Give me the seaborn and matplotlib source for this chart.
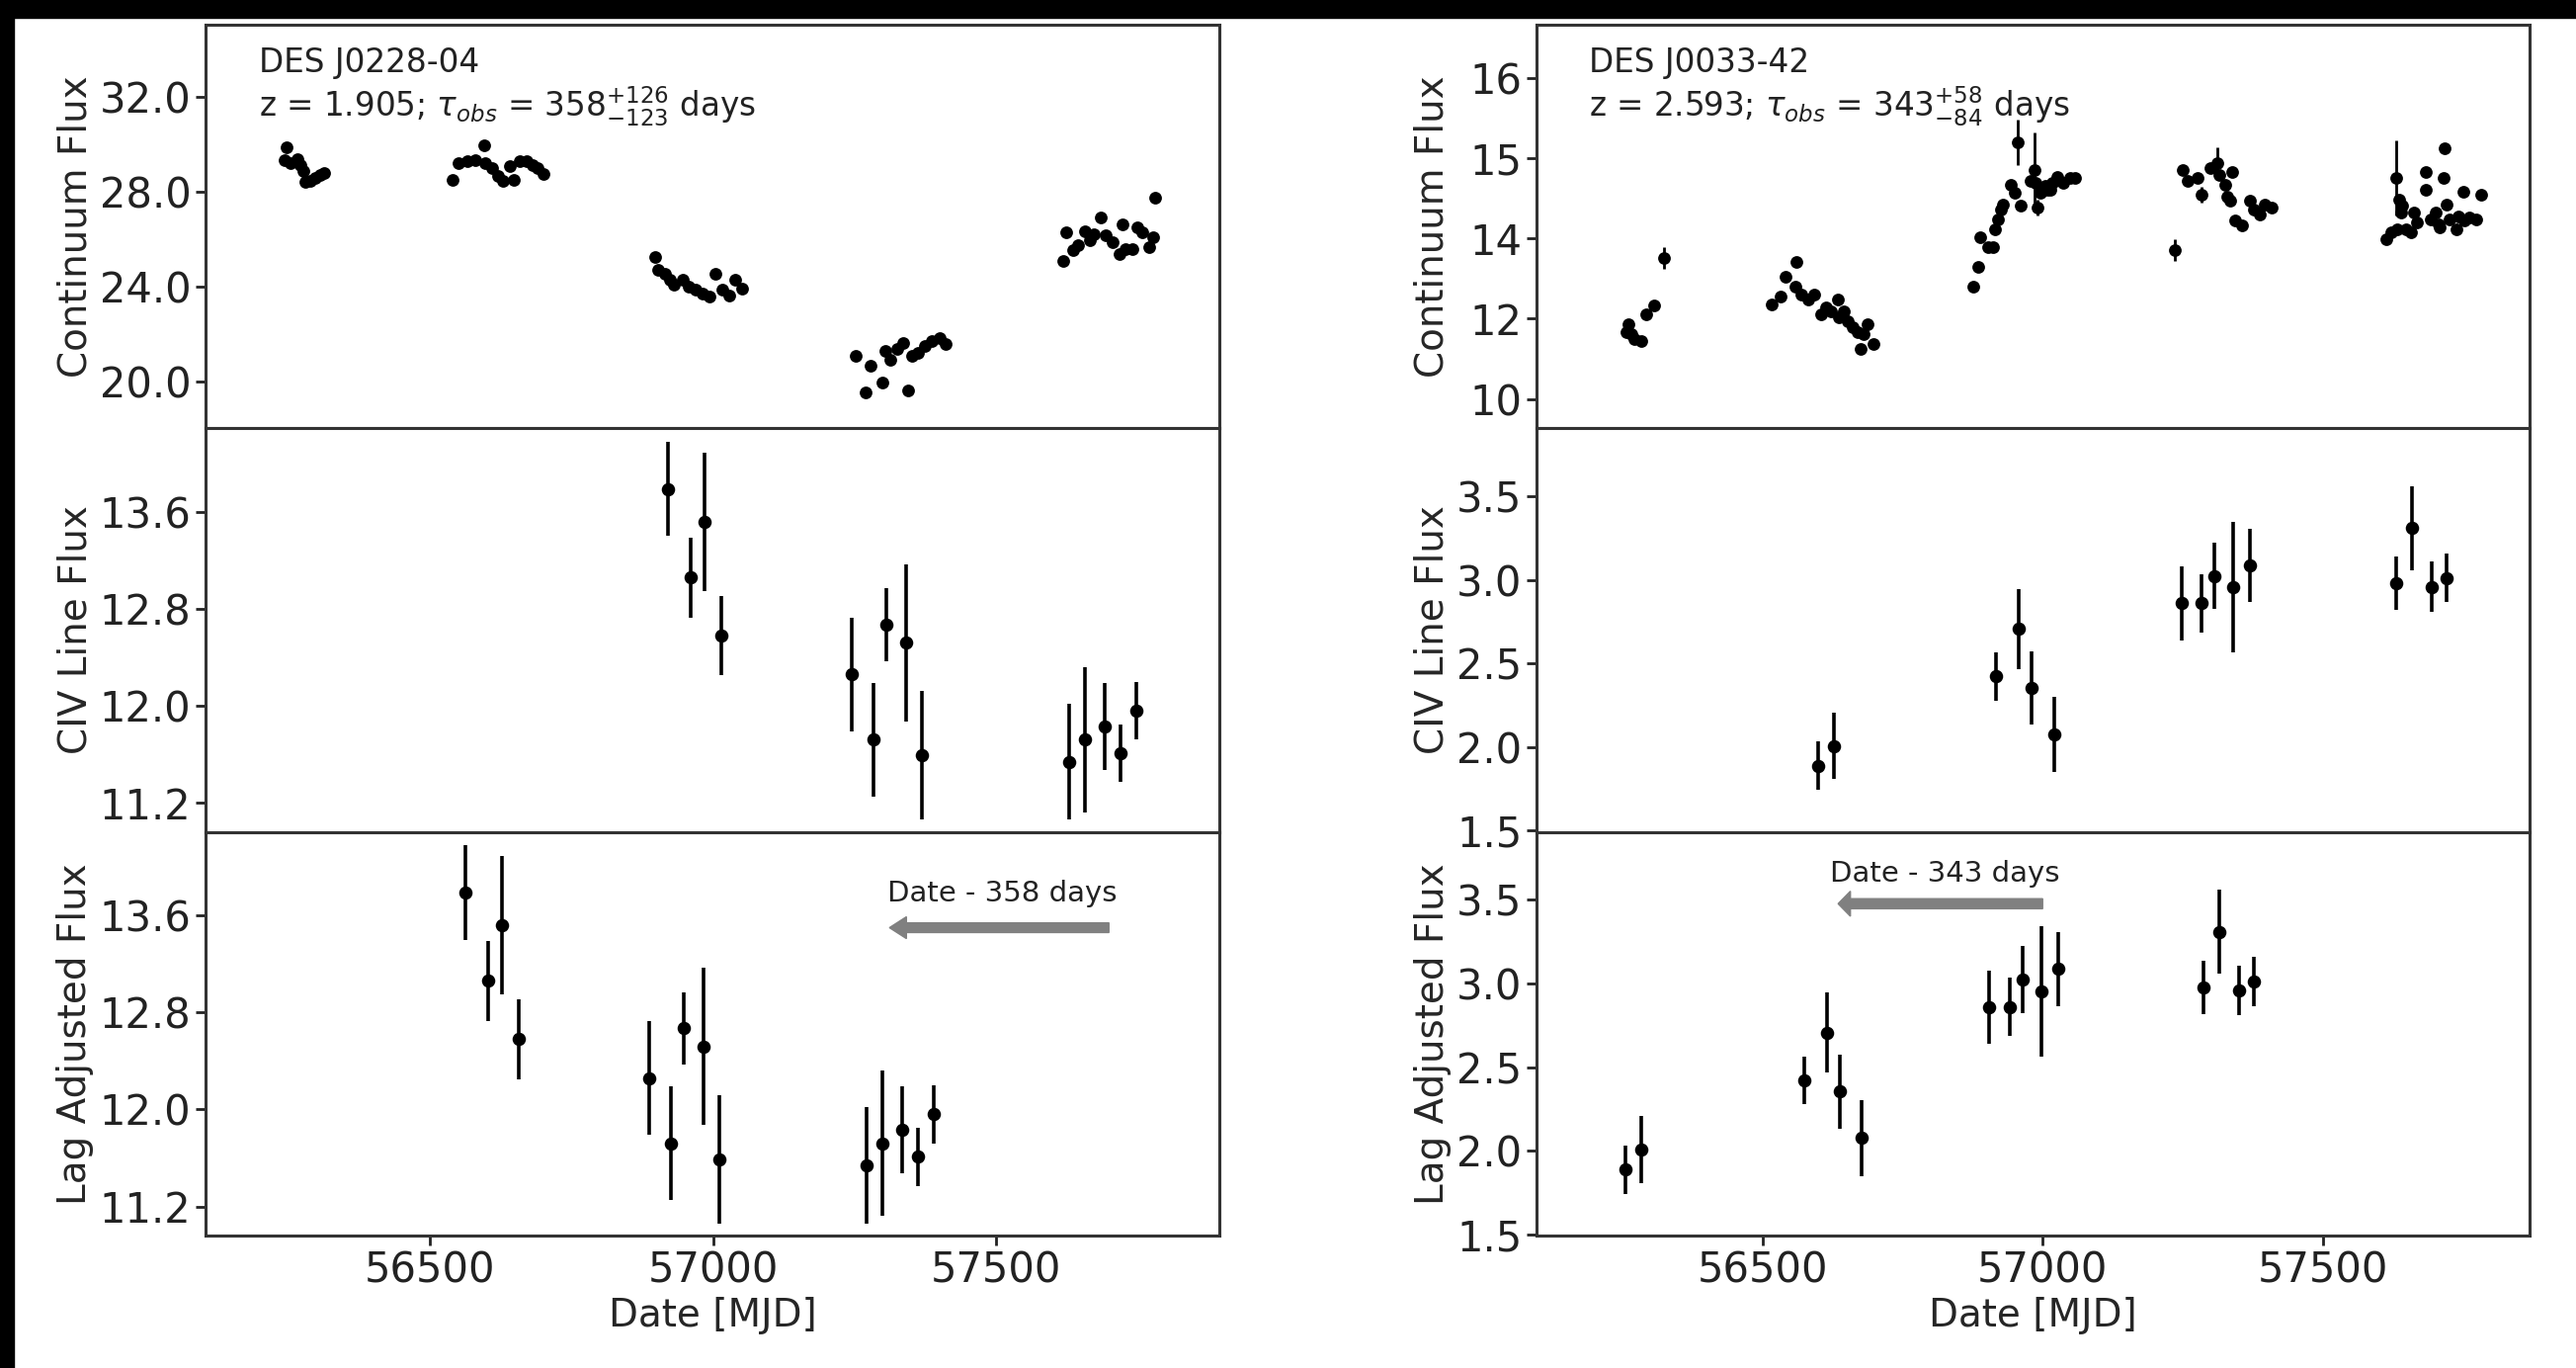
import matplotlib
matplotlib.use("Agg")
import matplotlib.pyplot as plt
import seaborn as sns
import pandas as pd
from matplotlib.patches import Rectangle

# DES J0228-04 -------------------------------------------------------------
j0228_cont_mjd = [56243.1, 56246.6, 56252.4, 56265.2, 56271.1, 56275.7, 56279.8, 56288.5, 56296.1, 56304.8, 56313.0,
                  56538.9, 56550.5, 56565.1, 56579.6, 56595.9, 56597.1, 56608.7, 56620.4, 56629.1, 56640.7, 56648.3,
                  56658.2, 56669.9, 56681.5, 56690.2, 56700.7,
                  56898.6, 56902.7, 56914.4, 56923.1, 56931.8, 56946.4, 56958.0, 56969.7, 56981.3, 56993.0, 57004.6,
                  57016.3, 57027.9, 57039.5, 57051.2,
                  57252.1, 57269.6, 57278.3, 57298.7, 57304.5, 57313.3, 57324.9, 57336.5, 57345.3, 57351.1, 57362.7,
                  57374.4, 57386.0, 57400.6, 57411.1,
                  57618.9, 57624.7, 57636.4, 57645.1, 57656.8, 57665.5, 57674.2, 57685.9, 57694.6, 57706.3, 57717.9,
                  57723.7, 57729.5, 57741.2, 57749.9, 57758.7, 57770.3, 57779.0, 57781.9]
j0228_cont_flux = [29.36, 29.87, 29.22, 29.40, 29.15, 28.87, 28.42, 28.48, 28.59, 28.70, 28.80,
                   28.52, 29.22, 29.31, 29.36, 29.95, 29.22, 29.01, 28.66, 28.45, 29.08, 28.52,
                   29.29, 29.31, 29.15, 29.01, 28.76,
                   25.25, 24.70, 24.56, 24.28, 24.07, 24.28, 24.00, 23.86, 23.72, 23.58, 24.56,
                   23.86, 23.65, 24.28, 23.93,
                   21.08, 19.55, 20.66, 19.97, 21.29, 20.94, 21.36, 21.64, 19.62, 21.08, 21.22,
                   21.50, 21.70, 21.84, 21.57,
                   25.11, 26.29, 25.53, 25.74, 26.36, 25.95, 26.23, 26.92, 26.16, 25.88, 25.39,
                   26.64, 25.60, 25.60, 26.50, 26.29, 25.67, 26.09, 27.76]
j0228_line_mjd = [56921, 56960, 56985, 57015, 57245, 57284, 57307, 57342, 57369,
                  57629, 57658, 57693, 57720, 57748]
j0228_line_flux = [13.79, 13.06, 13.52, 12.58, 12.26, 11.72, 12.67, 12.52, 11.59,
                   11.54, 11.72, 11.83, 11.61, 11.96]
j0228_line_err = [0.39, 0.33, 0.57, 0.33, 0.47, 0.47, 0.30, 0.65, 0.53,
                  0.48, 0.60, 0.36, 0.24, 0.24]
j0228_lag = 358
j0228_text = "DES J0228-04\nz = 1.905; $\\tau_{obs}$ = $358^{+126}_{-123}$ days"

# DES J0033-42 -------------------------------------------------------------
j0033_cont_mjd = [56257.2, 56260.1, 56265.9, 56271.8, 56283.4, 56292.2, 56306.8, 56324.4,
                  56517.2, 56531.8, 56540.6, 56558.1, 56561.0, 56569.8, 56581.5, 56593.2, 56604.9, 56613.6,
                  56622.4, 56634.1, 56637.0, 56645.8, 56651.6, 56660.4, 56669.2, 56675.0, 56680.8, 56686.7,
                  56698.4,
                  56876.6, 56885.4, 56888.3, 56902.9, 56911.7, 56914.6, 56920.5, 56926.3, 56929.2, 56943.8,
                  56949.7, 56955.5, 56961.4, 56978.9, 56984.8, 56987.7, 56990.6, 56996.3, 56999.3, 57005.1,
                  57008.1, 57013.9, 57016.9, 57025.6, 57037.3, 57048.9, 57057.7,
                  57235.9, 57250.6, 57259.3, 57276.9, 57282.7, 57300.2, 57311.9, 57314.8, 57326.5, 57329.4,
                  57335.3, 57338.2, 57344.1, 57355.8, 57370.4, 57376.3, 57388.0, 57396.7, 57408.3,
                  57612.9, 57621.7, 57630.4, 57633.3, 57636.3, 57639.2, 57642.1, 57647.9, 57656.7, 57662.6,
                  57668.4, 57683.0, 57683.0, 57691.8, 57700.5, 57706.4, 57709.3, 57715.2, 57718.1, 57721.0,
                  57726.9, 57738.5, 57741.5, 57750.2, 57753.1, 57761.9, 57773.6, 57782.4]
j0033_cont_flux = [11.25, 11.40, 11.21, 11.12, 11.09, 11.58, 11.74, 12.63,
                   11.77, 11.92, 12.29, 12.10, 12.56, 11.95, 11.86, 11.95, 11.58, 11.71,
                   11.64, 11.86, 11.52, 11.64, 11.46, 11.34, 11.25, 10.94, 11.21, 11.40,
                   11.03,
                   12.09, 12.47, 13.02, 12.84, 12.84, 13.18, 13.36, 13.55, 13.64, 14.01,
                   13.85, 14.80, 13.61, 14.07, 14.28, 14.04, 13.58, 13.85, 13.91, 13.98,
                   13.91, 13.91, 14.04, 14.16, 14.04, 14.13, 14.13,
                   12.78, 14.28, 14.07, 14.13, 13.82, 14.31, 14.41, 14.19, 14.01, 13.79,
                   13.70, 14.25, 13.33, 13.24, 13.70, 13.55, 13.45, 13.64, 13.58,
                   12.99, 13.12, 14.13, 13.18, 13.73, 13.49, 13.61, 13.18, 13.12, 13.49,
                   13.30, 14.25, 13.91, 13.36, 13.49, 13.27, 13.21, 14.13, 14.68, 13.64,
                   13.36, 13.18, 13.42, 13.88, 13.33, 13.39, 13.36, 13.81]
j0033_cont_err = [0.05, 0.05, 0.05, 0.05, 0.05, 0.05, 0.05, 0.20,
                  0.05, 0.05, 0.05, 0.05, 0.05, 0.05, 0.05, 0.05, 0.05, 0.05,
                  0.05, 0.05, 0.05, 0.05, 0.05, 0.05, 0.05, 0.05, 0.05, 0.05,
                  0.05,
                  0.05, 0.05, 0.05, 0.05, 0.05, 0.05, 0.05, 0.05, 0.05, 0.05,
                  0.05, 0.42, 0.05, 0.05, 0.70, 0.05, 0.15, 0.05, 0.05, 0.05,
                  0.05, 0.05, 0.05, 0.05, 0.05, 0.05, 0.05,
                  0.20, 0.05, 0.05, 0.05, 0.15, 0.05, 0.30, 0.05, 0.05, 0.05,
                  0.05, 0.05, 0.05, 0.05, 0.05, 0.05, 0.05, 0.05, 0.05,
                  0.05, 0.05, 0.70, 0.05, 0.05, 0.05, 0.05, 0.05, 0.05, 0.05,
                  0.05, 0.05, 0.05, 0.05, 0.05, 0.05, 0.05, 0.05, 0.05, 0.05,
                  0.05, 0.05, 0.05, 0.05, 0.05, 0.05, 0.05, 0.05]
j0033_line_mjd = [56599, 56627, 56917, 56958, 56981, 57020, 57248, 57284, 57307, 57340,
                  57370, 57630, 57659, 57694, 57720]
j0033_line_flux = [1.888, 2.007, 2.422, 2.706, 2.353, 2.076, 2.859, 2.859, 3.023, 2.954,
                   3.086, 2.978, 3.309, 2.958, 3.011]
j0033_line_err = [0.145, 0.20, 0.143, 0.24, 0.22, 0.226, 0.22, 0.175, 0.20, 0.39,
                  0.22, 0.16, 0.25, 0.15, 0.145]
j0033_lag = 343
j0033_text = "DES J0033-42\nz = 2.593; $\\tau_{obs}$ = $343^{+58}_{-84}$ days"

# axis ticks
j0228_cont_ticks = [20, 24, 28, 32]
j0228_cont_labels = ["20.0", "24.0", "28.0", "32.0"]
j0228_line_ticks = [11.2, 12.0, 12.8, 13.6]
j0033_cont_ticks = [10, 11.5, 13, 14.5, 16]
j0033_cont_labels = ["10", "12", "14", "15", "16"]
j0033_line_ticks = [1.5, 2.0, 2.5, 3.0, 3.5]
date_ticks = [56500, 57000, 57500]

sns.set_style("ticks")
plt.rcParams['font.family'] = ['DejaVu Sans']
plt.rcParams['mathtext.fontset'] = 'dejavusans'

fig = plt.figure(figsize=(26.07, 13.84), dpi=100)


def draw_column(left, right, cont_mjd, cont_flux, cont_err, line_mjd, line_flux, line_err,
                lag, label_text, xlim, cont_ylim, line_ylim, cont_ticks, cont_labels, line_ticks,
                line_fmt, arrow_x, arrow_y, arrow_head, arrow_w, arrow_hw, text_x, text_y):
    gs = fig.add_gridspec(3, 1, left=left, right=right, top=0.982, bottom=0.0968, hspace=0)
    ax1 = fig.add_subplot(gs[0])
    ax2 = fig.add_subplot(gs[1], sharex=ax1)
    ax3 = fig.add_subplot(gs[2], sharex=ax1)

    cont = pd.DataFrame({"mjd": cont_mjd, "flux": cont_flux})
    line = pd.DataFrame({"mjd": line_mjd, "flux": line_flux, "err": line_err})
    line["lag_mjd"] = line["mjd"] - lag

    # continuum
    if cont_err is not None:
        ax1.errorbar(cont["mjd"], cont["flux"], yerr=cont_err, fmt="none", ecolor="black", elinewidth=2)
    sns.scatterplot(data=cont, x="mjd", y="flux", ax=ax1, color="black", s=85, linewidth=0, zorder=3)

    # line flux, observed and lag adjusted
    for ax, xcol in [(ax2, "mjd"), (ax3, "lag_mjd")]:
        ax.errorbar(line[xcol], line["flux"], yerr=line["err"], fmt="none", ecolor="black", elinewidth=2.6)
        sns.scatterplot(data=line, x=xcol, y="flux", ax=ax, color="black", s=95, linewidth=0, zorder=3)

    ax1.set_ylim(cont_ylim)
    ax1.set_yticks(cont_ticks)
    ax1.set_yticklabels(cont_labels)
    for ax in (ax2, ax3):
        ax.set_ylim(line_ylim)
        ax.set_yticks(line_ticks)
        ax.set_yticklabels([line_fmt % t for t in line_ticks])

    ax1.set_xlim(xlim)
    ax3.set_xticks(date_ticks)
    ax3.set_xticklabels([str(t) for t in date_ticks])

    ax1.set_ylabel("Continuum Flux", fontsize=28)
    ax2.set_ylabel("CIV Line Flux", fontsize=28)
    ax3.set_ylabel("Lag Adjusted Flux", fontsize=28)
    ax1.set_xlabel("")
    ax2.set_xlabel("")
    ax3.set_xlabel("Date [MJD]", fontsize=28)

    for ax in (ax1, ax2, ax3):
        ax.tick_params(axis="both", labelsize=30, direction="out", length=7, width=2, colors="#222222")
        for sp in ax.spines.values():
            sp.set_linewidth(2.2)
            sp.set_color("#333333")
    for ax in (ax1, ax2):
        ax.tick_params(axis="x", labelbottom=False)

    ax1.text(0.053, 0.945, label_text, transform=ax1.transAxes, ha="left", va="top",
             fontsize=23.5, color="#222222", linespacing=1.15)

    ax3.arrow(arrow_x, arrow_y, -lag, 0, width=arrow_w, head_width=arrow_hw, head_length=arrow_head,
              color="gray", length_includes_head=False)
    ax3.text(text_x, text_y, "Date - %d days" % lag, ha="center", va="center", fontsize=21, color="#222222")
    fig.align_ylabels([ax1, ax2, ax3])


draw_column(0.0798, 0.4733, j0228_cont_mjd, j0228_cont_flux, None,
            j0228_line_mjd, j0228_line_flux, j0228_line_err, j0228_lag, j0228_text,
            (56103, 57895), (18.03, 35.06), (10.96, 14.29),
            j0228_cont_ticks, j0228_cont_labels, j0228_line_ticks, "%.1f",
            57700, 13.50, 30, 0.08, 0.18, 57512, 13.78)

draw_column(0.5965, 0.982, j0033_cont_mjd, j0033_cont_flux, j0033_cont_err,
            j0033_line_mjd, j0033_line_flux, j0033_line_err, j0033_lag, j0033_text,
            (56097, 57869), (9.45, 17.0), (1.493, 3.905),
            j0033_cont_ticks, j0033_cont_labels, j0033_line_ticks, "%.1f",
            57000, 3.476, 22, 0.06, 0.15, 56826, 3.654)

# dark frame left over at the top and left edges of the original
fig.patches.append(Rectangle((0, 0), 0.0055, 1, transform=fig.transFigure, color="black", zorder=10))
fig.patches.append(Rectangle((0, 0.987), 1, 0.013, transform=fig.transFigure, color="black", zorder=10))

fig.savefig("out.png", dpi=100)
